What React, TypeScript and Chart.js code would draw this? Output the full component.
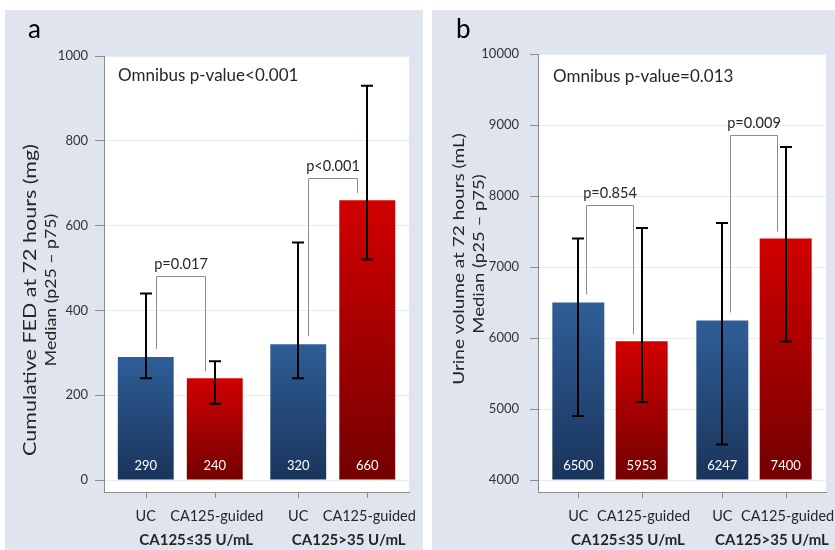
import React, { useEffect, useRef } from 'react';
import { Chart, registerables } from 'chart.js';

Chart.register(...registerables);

// ---------- data ----------
const groups = ['CA125≤35 U/mL', 'CA125>35 U/mL'];
const arms = ['UC', 'CA125-guided'];

// Panel a: cumulative FED at 72 hours (mg)
const fedUC = [290, 320];
const fedCA = [240, 660];
const fedUCp25 = [240, 240];
const fedUCp75 = [440, 560];
const fedCAp25 = [180, 520];
const fedCAp75 = [280, 930];
const fedPValues = ['p=0.017', 'p<0.001'];
const fedBracketAt = [480, 713];
const fedTicks = [0, 200, 400, 600, 800, 1000];
const fedOmnibus = 'Omnibus p-value<0.001';
const fedTitle = ['Cumulative FED at 72 hours (mg)', 'Median (p25 – p75)'];

// Panel b: urine volume at 72 hours (mL)
const urineUC = [6500, 6247];
const urineCA = [5953, 7400];
const urineUCp25 = [4900, 4500];
const urineUCp75 = [7400, 7620];
const urineCAp25 = [5100, 5950];
const urineCAp75 = [7550, 8690];
const urinePValues = ['p=0.854', 'p=0.009'];
const urineBracketAt = [7870, 8860];
const urineTicks = [4000, 5000, 6000, 7000, 8000, 9000, 10000];
const urineOmnibus = 'Omnibus p-value=0.013';
const urineTitle = ['Urine volume at 72 hours (mL)', 'Median (p25 – p75)'];

// ---------- styles ----------
const FONT = 'Lato, "Noto Sans", sans-serif';
const INK = '#262626';
const AXIS = '#8a8a8a';
const BG = '#dfe4ef';
const BLUE = ['#2f5e97', '#1a345b'];
const RED = ['#d20000', '#730000'];

type Cfg = {
  letter: string;
  title: string[];
  titleSizes: number[];
  titlePos: number[][];
  letterPos: number[];
  omnibus: string;
  omnibusPos: number[];
  box: { left: number; top: number; width: number; height: number };
  padTop: number;
  padRight: number;
  yAxisWidth: number;
  xAxisHeight: number;
  min: number;
  max: number;
  base: number;
  ticks: number[];
  tickPad: number;
  tickLen: number;
  uc: number[];
  ca: number[];
  ucLo: number[];
  ucHi: number[];
  caLo: number[];
  caHi: number[];
  pvals: string[];
  bracketAt: number[];
  legIn: number[];
  groupShift: number;
  catPct: number;
  barPct: number;
};

const panelA: Cfg = {
  letter: 'a',
  title: fedTitle,
  titleSizes: [21.5, 17.7],
  titlePos: [[26, 290], [46, 280]],
  letterPos: [23, 28],
  omnibus: fedOmnibus,
  omnibusPos: [113, 71],
  box: { left: 5, top: 10, width: 418, height: 540 },
  padTop: 46,
  padRight: 14,
  yAxisWidth: 99,
  xAxisHeight: 58,
  min: -28.3,
  max: 1000,
  base: 0,
  ticks: fedTicks,
  tickPad: 7,
  tickLen: 9,
  uc: fedUC,
  ca: fedCA,
  ucLo: fedUCp25,
  ucHi: fedUCp75,
  caLo: fedCAp25,
  caHi: fedCAp75,
  pvals: fedPValues,
  bracketAt: fedBracketAt,
  legIn: [10, 10],
  groupShift: 16,
  catPct: 0.905,
  barPct: 0.81,
};

const panelB: Cfg = {
  letter: 'b',
  title: urineTitle,
  titleSizes: [19, 18.5],
  titlePos: [[27, 249], [47, 244]],
  letterPos: [24, 28],
  omnibus: urineOmnibus,
  omnibusPos: [121, 72],
  box: { left: 432, top: 10, width: 403, height: 540 },
  padTop: 44,
  padRight: 9,
  yAxisWidth: 106,
  xAxisHeight: 58,
  min: 3831,
  max: 10000,
  base: 4000,
  ticks: urineTicks,
  tickPad: 11,
  tickLen: 8,
  uc: urineUC,
  ca: urineCA,
  ucLo: urineUCp25,
  ucHi: urineUCp75,
  caLo: urineCAp25,
  caHi: urineCAp75,
  pvals: urinePValues,
  bracketAt: urineBracketAt,
  legIn: [8, 9],
  groupShift: 18,
  catPct: 0.88,
  barPct: 0.82,
};

function gradientFor(chart: any, value: number, base: number, colors: string[]) {
  const y = chart.scales && chart.scales.y;
  if (!y) return colors[0];
  const top = y.getPixelForValue(value);
  const bottom = y.getPixelForValue(base);
  if (!isFinite(top) || !isFinite(bottom) || top === bottom) return colors[0];
  const g = chart.ctx.createLinearGradient(0, top, 0, bottom);
  g.addColorStop(0, colors[0]);
  g.addColorStop(1, colors[1]);
  return g;
}

function makeDecor(p: Cfg) {
  return {
    id: 'decor',
    beforeDraw(chart: any) {
      const { ctx, chartArea: a } = chart;
      ctx.save();
      ctx.fillStyle = '#ffffff';
      ctx.fillRect(a.left, a.top, a.right - a.left, a.bottom - a.top);
      ctx.restore();
    },
    afterDatasetsDraw(chart: any) {
      const { ctx } = chart;
      const y = chart.scales.y;
      const metaUC = chart.getDatasetMeta(0);
      const metaCA = chart.getDatasetMeta(1);
      ctx.save();
      // error bars
      const errs = [
        [metaUC, p.ucLo, p.ucHi],
        [metaCA, p.caLo, p.caHi],
      ];
      ctx.strokeStyle = '#000';
      ctx.lineWidth = 2;
      for (const [meta, lo, hi] of errs as any) {
        meta.data.forEach((el: any, i: number) => {
          const x = Math.round(el.x);
          const yl = y.getPixelForValue(lo[i]);
          const yh = y.getPixelForValue(hi[i]);
          ctx.beginPath();
          ctx.moveTo(x, yl);
          ctx.lineTo(x, yh);
          ctx.moveTo(x - 6, yl);
          ctx.lineTo(x + 6, yl);
          ctx.moveTo(x - 6, yh);
          ctx.lineTo(x + 6, yh);
          ctx.stroke();
        });
      }
      // brackets
      ctx.strokeStyle = '#8c8c8c';
      ctx.lineWidth = 1;
      ctx.fillStyle = INK;
      ctx.font = `14.5px ${FONT}`;
      ctx.textAlign = 'center';
      ctx.textBaseline = 'alphabetic';
      groups.forEach((_, i) => {
        const e1 = metaUC.data[i];
        const e2 = metaCA.data[i];
        const x1 = Math.round(e1.x + p.legIn[0]) + 0.5;
        const x2 = Math.round(e2.x - p.legIn[1]) + 0.5;
        const yt = Math.round(y.getPixelForValue(p.bracketAt[i])) + 0.5;
        const y1 = y.getPixelForValue(p.uc[i]) - 8;
        const y2 = y.getPixelForValue(p.ca[i]) - 7;
        ctx.beginPath();
        ctx.moveTo(x1, y1);
        ctx.lineTo(x1, yt);
        ctx.lineTo(x2, yt);
        ctx.lineTo(x2, y2);
        ctx.stroke();
        ctx.fillText(p.pvals[i], (x1 + x2) / 2, yt - 8);
      });
      // value labels
      ctx.fillStyle = '#ffffff';
      ctx.font = `13px ${FONT}`;
      const yBase = y.getPixelForValue(p.base) - 10;
      [
        [metaUC, p.uc],
        [metaCA, p.ca],
      ].forEach(([meta, vals]: any) => {
        meta.data.forEach((el: any, i: number) => {
          ctx.fillText(String(vals[i]), el.x, yBase);
        });
      });
      ctx.restore();
    },
    afterDraw(chart: any) {
      const { ctx, chartArea: a } = chart;
      const metaUC = chart.getDatasetMeta(0);
      const metaCA = chart.getDatasetMeta(1);
      ctx.save();
      // x tick marks and labels
      ctx.strokeStyle = AXIS;
      ctx.lineWidth = 1;
      ctx.fillStyle = INK;
      ctx.textAlign = 'center';
      ctx.textBaseline = 'alphabetic';
      groups.forEach((g, i) => {
        const xs = [metaUC.data[i].x, metaCA.data[i].x];
        xs.forEach((x: number, d: number) => {
          const xx = Math.round(x) + 0.5;
          ctx.beginPath();
          ctx.moveTo(xx, a.bottom);
          ctx.lineTo(xx, a.bottom + 6);
          ctx.stroke();
          ctx.font = `14.5px ${FONT}`;
          ctx.fillText(arms[d], x + (d === 1 ? 2 : 0), a.bottom + 29);
        });
        ctx.font = `bold 15px ${FONT}`;
        ctx.fillText(g, (xs[0] + xs[1]) / 2 + p.groupShift, a.bottom + 53);
      });
      // omnibus
      ctx.textAlign = 'left';
      ctx.font = `17px ${FONT}`;
      ctx.fillText(p.omnibus, p.omnibusPos[0], p.omnibusPos[1]);
      // panel letter
      ctx.font = `26px ${FONT}`;
      ctx.fillStyle = '#000';
      ctx.fillText(p.letter, p.letterPos[0], p.letterPos[1]);
      // y titles
      ctx.fillStyle = INK;
      ctx.textAlign = 'center';
      ctx.textBaseline = 'middle';
      p.title.forEach((t, k) => {
        ctx.save();
        ctx.translate(p.titlePos[k][0], p.titlePos[k][1]);
        ctx.rotate(-Math.PI / 2);
        ctx.scale(1, k === 0 && p.titleSizes[0] > 20 ? 0.76 : 0.82);
        ctx.font = `${p.titleSizes[k]}px ${FONT}`;
        ctx.fillText(t, 0, 0);
        ctx.restore();
      });
      ctx.restore();
    },
  };
}

function Panel({ cfg }: { cfg: Cfg }) {
  const ref = useRef<HTMLCanvasElement | null>(null);
  useEffect(() => {
    const p = cfg;
    const chart = new Chart(ref.current as HTMLCanvasElement, {
      type: 'bar',
      data: {
        labels: groups,
        datasets: [
          {
            label: arms[0],
            data: p.uc,
            base: p.base,
            backgroundColor: (c: any) => gradientFor(c.chart, c.raw, p.base, BLUE),
            borderWidth: 0,
          } as any,
          {
            label: arms[1],
            data: p.ca,
            base: p.base,
            backgroundColor: (c: any) => gradientFor(c.chart, c.raw, p.base, RED),
            borderWidth: 0,
          } as any,
        ],
      },
      options: {
        responsive: false,
        animation: false,
        categoryPercentage: p.catPct,
        barPercentage: p.barPct,
        layout: { padding: { left: 0, right: p.padRight, top: p.padTop, bottom: 0 } },
        plugins: {
          legend: { display: false },
          tooltip: { enabled: false },
          title: { display: false },
        },
        scales: {
          x: {
            type: 'category',
            offset: true,
            grid: { display: false, drawTicks: false },
            ticks: { display: false },
            border: { display: true, color: AXIS, width: 1 },
            afterFit: (s: any) => {
              s.height = p.xAxisHeight;
            },
          },
          y: {
            type: 'linear',
            min: p.min,
            max: p.max,
            grid: { color: '#e9ecf3', tickColor: AXIS, tickLength: p.tickLen, lineWidth: 1 },
            border: { display: true, color: AXIS, width: 1 },
            ticks: {
              font: { family: FONT, size: 13 },
              color: '#333',
              padding: p.tickPad,
              callback: (v: any) => String(v),
            },
            afterBuildTicks: (s: any) => {
              s.ticks = p.ticks.map((v) => ({ value: v }));
            },
            afterFit: (s: any) => {
              s.width = p.yAxisWidth;
            },
          },
        },
      } as any,
      plugins: [makeDecor(p)],
    });
    return () => chart.destroy();
  }, [cfg]);
  return (
    <div
      style={{
        position: 'absolute',
        left: cfg.box.left,
        top: cfg.box.top,
        width: cfg.box.width,
        height: cfg.box.height,
        background: BG,
      }}
    >
      <canvas ref={ref} width={cfg.box.width} height={cfg.box.height} style={{ display: 'block' }} />
    </div>
  );
}

export default function App() {
  return (
    <div
      style={{
        position: 'absolute',
        left: 0,
        top: 0,
        width: 835,
        height: 550,
        background: '#ffffff',
        overflow: 'hidden',
      }}
    >
      <Panel cfg={panelA} />
      <Panel cfg={panelB} />
    </div>
  );
}
